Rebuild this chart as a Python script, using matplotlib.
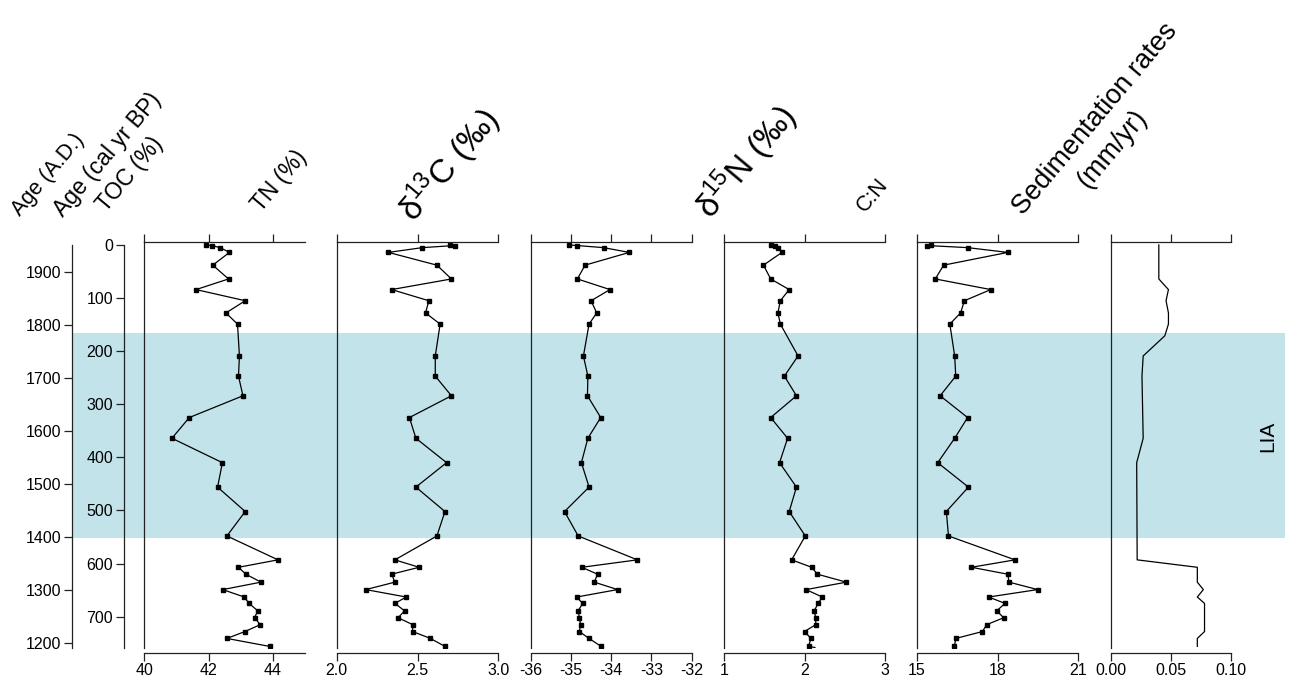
import matplotlib.pyplot as plt
from matplotlib.patches import Rectangle
from matplotlib.transforms import blended_transform_factory

plt.rcParams['font.family'] = ['Liberation Sans', 'DejaVu Sans']
plt.rcParams['mathtext.fontset'] = 'custom'
plt.rcParams['mathtext.rm'] = 'Liberation Sans'
plt.rcParams['axes.unicode_minus'] = False

W, H = 1293, 681

# sample ages (cal yr BP), shared by the geochemistry profiles
age_bp = [0, 1, 5, 14, 38, 64, 84, 105, 128, 149, 209, 247, 284, 325, 364, 410,
          456, 502, 548, 593, 607, 620, 635, 649, 663, 675, 689, 702, 715, 728, 741, 756]

toc = [41.92, 42.10, 42.36, 42.65, 42.13, 42.62, 41.61, 43.14, 42.54, 42.90, 42.96,
       42.93, 43.07, 41.40, 40.86, 42.43, 42.28, 43.14, 42.57, 44.16, 42.93, 43.16,
       43.63, 42.44, 43.11, 43.26, 43.53, 43.43, 43.61, 43.13, 42.57, 43.90]

tn = [2.70, 2.73, 2.53, 2.32, 2.62, 2.71, 2.34, 2.57, 2.55, 2.64, 2.61, 2.61, 2.71,
      2.45, 2.49, 2.68, 2.49, 2.67, 2.62, 2.36, 2.51, 2.34, 2.36, 2.18, 2.43, 2.36,
      2.42, 2.38, 2.47, 2.47, 2.58, 2.67]

d13c = [-35.05, -34.86, -34.19, -33.55, -34.65, -34.84, -34.03, -34.50, -34.36, -34.55,
        -34.69, -34.58, -34.59, -34.26, -34.58, -34.74, -34.55, -35.16, -34.82, -33.35,
        -34.73, -34.34, -34.42, -33.84, -34.86, -34.71, -34.82, -34.79, -34.76, -34.79,
        -34.55, -34.25]

d15n = [1.58, 1.63, 1.67, 1.72, 1.49, 1.58, 1.81, 1.70, 1.67, 1.70, 1.92, 1.75, 1.90,
        1.58, 1.79, 1.69, 1.90, 1.81, 2.01, 1.84, 2.09, 2.16, 2.52, 2.02, 2.22, 2.17,
        2.12, 2.14, 2.14, 2.00, 2.08, 2.05]
# short unmarked tail of the d15N line below the last sample
d15n_tail_age = [756, 758]
d15n_tail = [2.05, 2.13]

cn = [15.53, 15.37, 16.89, 18.38, 16.00, 15.69, 17.75, 16.77, 16.63, 16.23, 16.41,
      16.45, 15.87, 16.89, 16.41, 15.78, 16.92, 16.10, 16.18, 18.65, 17.03, 18.38,
      18.43, 19.49, 17.67, 18.28, 17.97, 18.23, 17.60, 17.44, 16.45, 16.40]

sed_age = [0, 64, 84, 105, 128, 149, 171, 209, 247, 364, 410, 593, 607, 635, 649,
           663, 675, 728, 741, 756]
sed_rate = [0.040, 0.040, 0.048, 0.046, 0.048, 0.048, 0.045, 0.027, 0.026, 0.027,
            0.0216, 0.022, 0.072, 0.072, 0.077, 0.072, 0.078, 0.078, 0.072, 0.072]

lia_bp = (165, 551)
ad_ticks = [1900, 1800, 1700, 1600, 1500, 1400, 1300, 1200]
bp_ticks = [0, 100, 200, 300, 400, 500, 600, 700]

fig = plt.figure(figsize=(W / 100, H / 100), dpi=100)

Y_TOP, Y_BOT = 242, 648
YLIM = (759, -5.6)


def px_axes(x0, x1):
    return fig.add_axes([x0 / W, 1 - Y_BOT / H, (x1 - x0) / W, (Y_BOT - Y_TOP) / H])


axis_col = '#222222'
tick_size = 11.5

# two age scales on the left
for xpos, ticks, labels in [
        (72, [1950 - a for a in ad_ticks], [str(a) for a in ad_ticks]),
        (124, bp_ticks, [str(b) for b in bp_ticks])]:
    ax = px_axes(xpos, xpos + 1)
    ax.patch.set_visible(False)
    for s in ['top', 'right', 'bottom']:
        ax.spines[s].set_visible(False)
    ax.spines['left'].set_bounds(0, YLIM[0])
    ax.spines['left'].set_color(axis_col)
    ax.spines['left'].set_linewidth(0.9)
    ax.set_ylim(*YLIM)
    ax.set_xticks([])
    ax.set_yticks(ticks)
    ax.set_yticklabels(labels)
    ax.tick_params(axis='y', length=6, width=0.9, color=axis_col, labelsize=tick_size, pad=2)

panels = [
    (toc, 144.3, 305, (40, 45), [40, 42, 44], ['40', '42', '44']),
    (tn, 336.7, 498.3, (2.0, 3.0), [2.0, 2.5, 3.0], ['2.0', '2.5', '3.0']),
    (d13c, 530.7, 691.7, (-36, -32), [-36, -35, -34, -33, -32], ['-36', '-35', '-34', '-33', '-32']),
    (d15n, 724, 885, (1, 3), [1, 2, 3], ['1', '2', '3']),
    (cn, 916.7, 1078.3, (15, 21), [15, 18, 21], ['15', '18', '21']),
    (None, 1110.7, 1231, (0, 0.10), [0, 0.05, 0.10], ['0.00', '0.05', '0.10']),
]

axes = []
for vals, x0, x1, xlim, ticks, labels in panels:
    ax = px_axes(x0, x1)
    ax.patch.set_visible(False)
    if vals is None:
        ax.plot(sed_rate, sed_age, color='black', lw=0.9)
    else:
        if vals is d15n:
            ax.plot(d15n_tail, d15n_tail_age, color='black', lw=0.9)
        ax.plot(vals, age_bp, color='black', lw=0.9, marker='s', ms=3)
    ax.set_xlim(*xlim)
    ax.set_ylim(*YLIM)
    ax.spines['right'].set_visible(False)
    ax.spines['bottom'].set_position(('outward', 3.5))
    for s in ['top', 'bottom', 'left']:
        ax.spines[s].set_color(axis_col)
        ax.spines[s].set_linewidth(0.9)
    ax.set_yticks([])
    ax.set_xticks(ticks)
    ax.set_xticklabels(labels)
    ax.tick_params(axis='x', top=True, bottom=True, labeltop=False, direction='out',
                   length=6, width=0.9, color=axis_col, labelsize=tick_size, pad=1)
    axes.append(ax)

# LIA band across all panels
trans = blended_transform_factory(fig.transFigure, axes[0].transData)
band = Rectangle((72 / W, lia_bp[0]), (1285 - 72) / W, lia_bp[1] - lia_bp[0],
                 transform=trans, facecolor='#c2e3ea', edgecolor='none', zorder=-1)
fig.add_artist(band)
fig.text(1268 / W, 1 - 436 / H, 'LIA', rotation=90, ha='center', va='center', fontsize=15)

# column headers
headers = [
    ('Age (A.D.)', 20, 217, 15.5),
    ('Age (cal yr BP)', 63, 218, 16.5),
    ('TOC (%)', 106, 213, 16.5),
    ('TN (%)', 261, 213, 16.5),
    (r'δ$^{\mathregular{13}}$C (‰)', 414, 224, 24),
    (r'δ$^{\mathregular{15}}$N (‰)', 711, 221, 24),
    ('C:N', 865, 213, 15.5),
    ('Sedimentation rates', 1023, 216, 19.5),
    ('(mm/yr)', 1088, 189, 19.5),
]
for txt, x, y, size in headers:
    fig.text(x / W, 1 - y / H, txt, rotation=50, rotation_mode='anchor',
             ha='left', va='baseline', fontsize=size)

fig.savefig('out.png', dpi=100)
